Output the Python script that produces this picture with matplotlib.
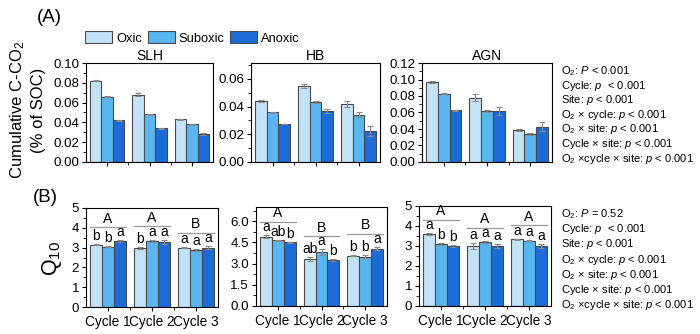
import numpy as np
import matplotlib
matplotlib.use("Agg")
import matplotlib.pyplot as plt
from matplotlib.ticker import MultipleLocator, AutoMinorLocator, FormatStrFormatter

plt.rcParams['font.family'] = ['Liberation Sans', 'DejaVu Sans']
plt.rcParams['mathtext.fontset'] = 'custom'
plt.rcParams['mathtext.rm'] = 'Liberation Sans'
plt.rcParams['mathtext.it'] = 'Liberation Sans:italic'

# ---------------- data ----------------
sites = ["SLH", "HB", "AGN"]
treatments = ["Oxic", "Suboxic", "Anoxic"]
cycles = ["Cycle 1", "Cycle 2", "Cycle 3"]

# cumulative C-CO2 (% of SOC), rows = cycle, cols = treatment
co2_slh = [[0.082, 0.066, 0.042], [0.068, 0.048, 0.034], [0.043, 0.038, 0.028]]
co2_hb = [[0.044, 0.036, 0.0275], [0.055, 0.0435, 0.037], [0.042, 0.034, 0.0225]]
co2_agn = [[0.097, 0.083, 0.063], [0.078, 0.062, 0.062], [0.039, 0.034, 0.043]]
co2_err_slh = [[0.0006, 0.0005, 0.0005], [0.0012, 0.0006, 0.0008], [0.0007, 0.0004, 0.0008]]
co2_err_hb = [[0.0009, 0.0004, 0.0003], [0.0015, 0.0009, 0.0015], [0.002, 0.0018, 0.0035]]
co2_err_agn = [[0.001, 0.0006, 0.0006], [0.004, 0.0012, 0.0045], [0.0015, 0.0008, 0.005]]

# Q10, rows = cycle, cols = treatment
q10_slh = [[3.15, 3.05, 3.33], [2.98, 3.32, 3.28], [3.0, 2.88, 3.0]]
q10_hb = [[4.9, 4.65, 4.52], [3.35, 3.8, 3.26], [3.55, 3.5, 4.05]]
q10_agn = [[3.6, 3.08, 2.98], [2.98, 3.2, 3.0], [3.33, 3.26, 3.0]]
q10_err_slh = [[0.03, 0.03, 0.03], [0.03, 0.04, 0.12], [0.04, 0.03, 0.08]]
q10_err_hb = [[0.1, 0.05, 0.04], [0.15, 0.2, 0.06], [0.04, 0.08, 0.1]]
q10_err_agn = [[0.04, 0.05, 0.05], [0.15, 0.04, 0.1], [0.03, 0.03, 0.12]]

# significance letters
bar_letters_slh = [["b", "b", "a"], ["b", "a", "a"], ["a", "a", "a"]]
bar_letters_hb = [["a", "ab", "b"], ["ab", "a", "b"], ["b", "b", "a"]]
bar_letters_agn = [["a", "b", "b"], ["a", "a", "a"], ["a", "a", "a"]]
group_letters_slh = ["A", "A", "B"]
group_letters_hb = ["A", "B", "B"]
group_letters_agn = ["A", "A", "A"]

stats_top = [r"O$_2$: $P$ < 0.001", r"Cycle: $p$  < 0.001", r"Site: $p$ < 0.001",
             r"O$_2$ × cycle: $p$ < 0.001", r"O$_2$ × site: $p$ < 0.001",
             r"Cycle × site: $p$ < 0.001", r"O$_2$ ×cycle × site: $p$ < 0.001"]
stats_bottom = [r"O$_2$: $P$ = 0.52", r"Cycle: $p$  < 0.001", r"Site: $p$ < 0.001",
                r"O$_2$ × cycle: $p$ < 0.001", r"O$_2$ × site: $p$ < 0.001",
                r"Cycle × site: $p$ < 0.001", r"O$_2$ ×cycle × site: $p$ < 0.001"]

colors = ["#c4e2f7", "#5ab6f0", "#1d6bd8"]
edge = "#4a4a4a"
W, H = 700, 334
width = 0.27
x = np.arange(1, 4)


def px_axes(fig, left, top, right, bottom):
    return fig.add_axes([left / W, 1 - bottom / H, (right - left) / W, (bottom - top) / H])


def draw_bars(ax, vals, errs):
    vals = np.array(vals)
    errs = np.array(errs)
    for j in range(3):
        ax.bar(x + (j - 1) * width, vals[:, j], width, color=colors[j],
               edgecolor=edge, linewidth=0.8, zorder=2,
               yerr=errs[:, j], ecolor="#8a8a8a", capsize=2,
               error_kw=dict(elinewidth=0.8, capthick=0.8))
    ax.set_xlim(0.5, 3.5)
    ax.set_xticks(x)
    ax.set_xticks([1.5, 2.5], minor=True)
    ax.tick_params(axis='both', direction='out', length=3, width=0.8, labelsize=9.6, pad=2)
    ax.tick_params(axis='both', which='minor', length=2, width=0.6)
    ax.yaxis.set_minor_locator(AutoMinorLocator(2))
    for s in ax.spines.values():
        s.set_linewidth(0.8)


def draw_letters(ax, vals, errs, letters, groups, ymax):
    vals = np.array(vals)
    errs = np.array(errs)
    tops = vals + errs
    for i in range(3):
        for j in range(3):
            ax.text(x[i] + (j - 1) * width, tops[i, j] + 0.01 * ymax, letters[i][j],
                    ha='center', va='bottom', fontsize=10)
        ly = tops[i].max() + 0.135 * ymax
        ax.plot([x[i] - 1.5 * width, x[i] + 1.5 * width], [ly, ly], color="#9a9a9a", lw=0.9)
        ax.text(x[i], ly + 0.015 * ymax, groups[i], ha='center', va='bottom', fontsize=10)


fig = plt.figure(figsize=(7.0, 3.34), dpi=100)

# ---------------- panel A ----------------
top_boxes = [(86, 63, 213, 162), (251, 63, 380, 162), (422, 63, 552, 162)]
top_data = [(co2_slh, co2_err_slh, 0.10, 0.02), (co2_hb, co2_err_hb, 0.0715, 0.02),
            (co2_agn, co2_err_agn, 0.12, 0.02)]
for box, (vals, errs, ymax, step), name in zip(top_boxes, top_data, sites):
    ax = px_axes(fig, *box)
    draw_bars(ax, vals, errs)
    ax.set_ylim(0, ymax)
    ax.yaxis.set_major_locator(MultipleLocator(step))
    ax.yaxis.set_major_formatter(FormatStrFormatter('%.2f'))
    ax.set_xticklabels([])
    ax.set_title(name, fontsize=10, pad=2)

# ---------------- panel B ----------------
bot_boxes = [(86, 208, 218, 307), (256, 207, 387, 306), (419, 206, 551, 306)]
bot_data = [(q10_slh, q10_err_slh, bar_letters_slh, group_letters_slh, 5, 1, '%d'),
            (q10_hb, q10_err_hb, bar_letters_hb, group_letters_hb, 7, 1.5, '%.1f'),
            (q10_agn, q10_err_agn, bar_letters_agn, group_letters_agn, 5, 1, '%d')]
for box, (vals, errs, lets, grps, ymax, step, fmt) in zip(bot_boxes, bot_data):
    ax = px_axes(fig, *box)
    draw_bars(ax, vals, errs)
    ax.set_ylim(0, ymax)
    ax.yaxis.set_major_locator(MultipleLocator(step))
    ax.yaxis.set_major_formatter(FormatStrFormatter(fmt))
    ax.set_xticklabels(cycles, fontsize=9.8)
    ax.tick_params(axis='x', pad=3)
    draw_letters(ax, vals, errs, lets, grps, ymax)

# legend
handles = [plt.Rectangle((0, 0), 1, 1, facecolor=c, edgecolor=edge, linewidth=0.8) for c in colors]
fig.legend(handles, treatments, loc='center left', bbox_to_anchor=(85 / W, 1 - 38 / H),
           ncol=3, frameon=False, fontsize=9.3, handlelength=2.1, handleheight=1.0,
           handletextpad=0.3, columnspacing=0.45, borderpad=0, borderaxespad=0)

# axis labels and panel tags
fig.text(18 / W, 1 - 110 / H, "Cumulative C-CO$_2$", rotation=90, ha='center', va='center', fontsize=12)
fig.text(39 / W, 1 - 110 / H, "(% of SOC)", rotation=90, ha='center', va='center', fontsize=12)
fig.text(52 / W, 1 - 258 / H, "Q$_{10}$", rotation=90, ha='center', va='center', fontsize=15.5)
fig.text(37 / W, 1 - 17 / H, "(A)", ha='left', va='center', fontsize=13.5)
fig.text(33 / W, 1 - 197 / H, "(B)", ha='left', va='center', fontsize=13.5)

# statistics
for k, line in enumerate(stats_top):
    fig.text(561 / W, 1 - (71 + k * 14.6) / H, line, ha='left', va='center', fontsize=8)
for k, line in enumerate(stats_bottom):
    fig.text(561 / W, 1 - (214 + k * 15.2) / H, line, ha='left', va='center', fontsize=8)

fig.savefig("out.png", dpi=100)
